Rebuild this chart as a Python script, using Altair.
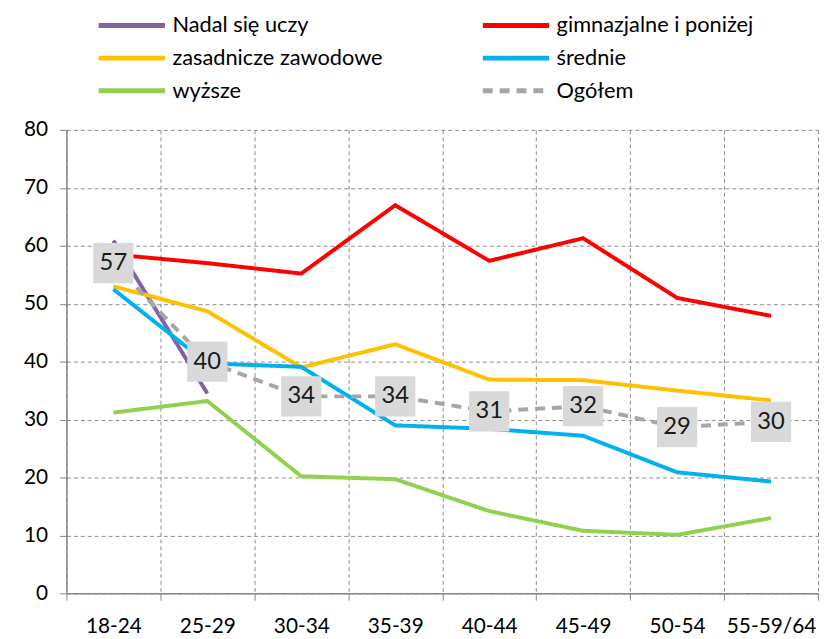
import altair as alt
import pandas as pd

ages = ["18-24", "25-29", "30-34", "35-39", "40-44", "45-49", "50-54", "55-59/64"]
series_names = ["Nadal się uczy", "gimnazjalne i poniżej", "zasadnicze zawodowe",
                "średnie", "wyższe", "Ogółem"]
series_colors = ["#8064A2", "#FF0000", "#FFC000", "#00B0F0", "#92D050", "#A6A6A6"]
series_dash = [[1, 0], [1, 0], [1, 0], [1, 0], [1, 0], [10, 7]]
# legend reads row by row in two columns; Vega fills columns first
legend_order = [0, 2, 4, 1, 3, 5]

nadal = [60.9, 34.5]
gimn = [58.5, 57.0, 55.2, 67.0, 57.4, 61.3, 51.0, 47.9]
zasad = [53.0, 48.7, 39.0, 43.0, 36.9, 36.8, 35.0, 33.3]
sred = [52.5, 39.7, 39.1, 29.0, 28.4, 27.2, 20.9, 19.3]
wyz = [31.2, 33.2, 20.2, 19.7, 14.2, 10.8, 10.1, 13.0]
ogolem = [57.0, 40.0, 34.0, 34.0, 31.4, 32.3, 28.7, 29.6]
ogolem_labels = ["57", "40", "34", "34", "31", "32", "29", "30"]

FONT = "Lato, Open Sans"

rows = []
for name, vals in zip(series_names, [nadal, gimn, zasad, sred, wyz, ogolem]):
    for i, v in enumerate(vals):
        rows.append({"seria": name, "wiek": ages[i], "wartosc": v, "ord": i})
df = pd.DataFrame(rows)

lab = pd.DataFrame({"wiek": ages, "wartosc": ogolem, "etykieta": ogolem_labels})

dom = [series_names[k] for k in legend_order]
col_rng = [series_colors[k] for k in legend_order]
dash_rng = [series_dash[k] for k in legend_order]

xenc = alt.X("wiek:N", sort=ages,
             scale=alt.Scale(type="band", paddingInner=0, paddingOuter=0),
             axis=alt.Axis(title=None, labelAngle=0, tickBand="extent", grid=True,
                           gridDash=[4, 3], gridColor="#8C8C8C", gridWidth=1,
                           labelPadding=16))
yenc = alt.Y("wartosc:Q", scale=alt.Scale(domain=[0, 80], nice=False, zero=True),
             axis=alt.Axis(title=None, values=list(range(0, 81, 10)), grid=True,
                           gridDash=[4, 3], gridColor="#8C8C8C", gridWidth=1,
                           labelPadding=12))

lines = alt.Chart(df).mark_line(strokeWidth=4).encode(
    x=xenc,
    y=yenc,
    color=alt.Color("seria:N", sort=dom,
                    scale=alt.Scale(domain=dom, range=col_rng),
                    legend=alt.Legend(title=None, orient="none", legendX=30, legendY=-122,
                                      columns=2, columnPadding=98, rowPadding=0,
                                      clipHeight=33,
                                      symbolType="stroke", symbolSize=4489,
                                      symbolStrokeWidth=5, labelFontSize=22,
                                      labelFont=FONT, labelColor="#000000",
                                      labelOffset=5, labelLimit=400)),
    strokeDash=alt.StrokeDash("seria:N", sort=dom,
                              scale=alt.Scale(domain=dom, range=dash_rng),
                              legend=None),
    order="ord:Q",
)

boxes = alt.Chart(lab).mark_square(size=1650, color="#D9D9D9", opacity=1).encode(
    x=alt.X("wiek:N", sort=ages), y="wartosc:Q")
texts = alt.Chart(lab).mark_text(fontSize=24, font=FONT, color="#1A1A1A",
                                 baseline="middle", align="center").encode(
    x=alt.X("wiek:N", sort=ages), y="wartosc:Q", text="etykieta:N")

chart = alt.layer(lines, boxes, texts).properties(
    width=759, height=468,
    autosize=alt.AutoSizeParams(type="none"),
    padding={"left": 59, "top": 120, "right": 2, "bottom": 43},
).configure_view(stroke=None).configure_axis(
    labelFont=FONT, labelFontSize=21, labelColor="#000000",
    domainColor="#868686", tickColor="#868686", tickSize=7, domainWidth=1.5,
)

chart.save("out.html", embed_options={"renderer": "svg", "actions": False})
